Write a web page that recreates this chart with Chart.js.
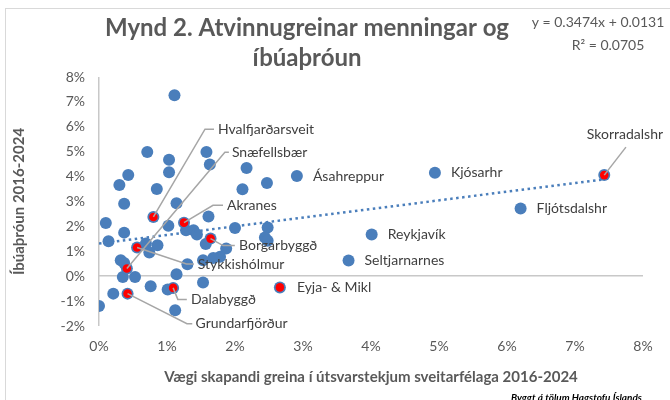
<!DOCTYPE html>
<html><head><meta charset="utf-8">
<script src="https://cdn.jsdelivr.net/npm/chart.js@4"></script>
<style>html,body{margin:0;padding:0;background:#fff}</style>
</head><body>
<canvas id="c" width="670" height="400"></canvas>
<script>
// ---- data ----
const xTickLabels = ['0%','1%','2%','3%','4%','5%','6%','7%','8%'];
const yTickLabels = ['-2%','-1%','0%','1%','2%','3%','4%','5%','6%','7%','8%'];

// unlabeled municipalities (x: weight %, y: population growth %)
const otherX = [1.11,0.71,1.03,1.03,0.43,0.30,0.85,1.58,1.63,2.17,2.47,2.11,0.37,1.14,1.61,1.02,0.10,0.37,1.28,1.39,1.44,2.00,2.48,2.44,2.48,0.14,0.69,0.86,0.74,1.57,1.87,1.78,1.68,1.53,1.30,0.32,0.37,0.35,0.53,1.14,0.21,0.76,1.01,1.12,0.00,1.53];
const otherY = [7.27,4.99,4.68,4.17,4.06,3.66,3.50,4.99,4.49,4.35,3.74,3.49,2.91,2.93,2.40,2.03,2.14,1.75,1.85,1.85,1.67,1.94,1.96,1.55,1.42,1.40,1.31,1.24,0.95,1.29,1.11,0.78,0.73,0.64,0.48,0.64,0.53,-0.03,-0.03,0.08,-0.70,-0.40,-0.53,-1.37,-1.20,-0.25];

// labeled (blue) municipalities
const namedNames = ['Ásahreppur','Kjósarhr','Fljótsdalshr','Reykjavík','Seltjarnarnes'];
const namedX = [2.91,4.94,6.20,4.01,3.67];
const namedY = [4.02,4.15,2.72,1.67,0.63];

// highlighted (red) municipalities
const hiNames = ['Hvalfjarðarsveit','Snæfellsbær','Akranes','Borgarbyggð','Stykkishólmur','Dalabyggð','Grundarfjörður','Eyja- & Mikl','Skorradalshr'];
const hiX = [0.80,0.41,1.25,1.64,0.56,1.09,0.42,2.66,7.43];
const hiY = [2.38,0.31,2.15,1.51,1.15,-0.47,-0.70,-0.45,4.06];

// linear trend shown on chart: y = 0.3474x + 0.0131
const trendSlope = [0.3474];
const trendIntercept = [0.0131];
const trendRangeX = [0, 7.43];

// ---- build ----
const toPts = (xs, ys) => xs.map((x, i) => ({x, y: ys[i]}));
const allBlue = toPts(otherX.concat(namedX, hiX), otherY.concat(namedY, hiY));
const hiPts = toPts(hiX, hiY);
const trendPts = trendRangeX.map(x => ({x, y: (trendSlope[0] * x / 100 + trendIntercept[0]) * 100}));

const FONT = 'Lato, "Noto Sans", sans-serif';
const BLUE = '#4a7ebb';

// label layout, offsets in pixels relative to the point
const hiLayout = {
  'Hvalfjarðarsveit': {elbow:[51.6,-87.7], hend:60.6, text:[64.6,-87.7]},
  'Snæfellsbær':      {elbow:[98,-116.3], hend:102, text:[105,-116.3]},
  'Akranes':          {elbow:[29,-17.3], hend:39, text:[43,-17.3]},
  'Borgarbyggð':      {elbow:[12.6,7], hend:24.3, text:[28.5,7]},
  'Stykkishólmur':    {elbow:[49.4,16.5], hend:56.7, text:[60.7,16.5]},
  'Dalabyggð':        {elbow:[4.7,11.5], hend:13.7, text:[18,11.5]},
  'Grundarfjörður':   {elbow:[59.4,30], hend:64.7, text:[68,30]},
  'Eyja- & Mikl':     {text:[17,0]},
  'Skorradalshr':     {elbow:[21.7,-28], text:[20.7,-41], center:true}
};

const decor = {
  id: 'decor',
  beforeDraw(chart) {
    const c = chart.ctx;
    c.save();
    c.fillStyle = '#fff';
    c.fillRect(0, 0, chart.width, chart.height);
    c.strokeStyle = '#d9d9d9';
    c.lineWidth = 1;
    c.strokeRect(5.5, 8.5, 700, 420);
    c.restore();
  },
  afterDraw(chart) {
    const c = chart.ctx;
    const xs = chart.scales.x, ys = chart.scales.y;
    c.save();
    // title
    c.fillStyle = '#595959';
    c.textAlign = 'center';
    c.textBaseline = 'middle';
    c.font = 'bold 24px ' + FONT;
    c.fillText('Mynd 2. Atvinnugreinar menningar og', 307, 28);
    c.fillText('íbúaþróun', 307, 58);
    // equation
    c.font = '14px ' + FONT;
    c.fillText('y = 0.3474x + 0.0131', 598, 22);
    c.fillText('R² = 0.0705', 608, 45);
    // axis titles
    c.font = 'bold 15px ' + FONT;
    c.fillText('Vægi skapandi greina í útsvarstekjum sveitarfélaga 2016-2024', (xs.left + xs.right) / 2, 377);
    c.save();
    c.translate(19, (ys.top + ys.bottom) / 2);
    c.rotate(-Math.PI / 2);
    c.fillText('Íbúaþróun 2016-2024', 0, 0);
    c.restore();
    // source
    c.fillStyle = '#000';
    c.textAlign = 'left';
    c.font = 'italic bold 10px ' + FONT;
    c.fillText('Byggt á tölum Hagstofu Íslands', 511, 398);

    // point labels
    c.font = '14px ' + FONT;
    c.fillStyle = '#404040';
    c.textBaseline = 'middle';
    namedNames.forEach((n, i) => {
      const px = xs.getPixelForValue(namedX[i]), py = ys.getPixelForValue(namedY[i]);
      c.textAlign = 'left';
      c.fillText(n, px + 16, py);
    });
    hiNames.forEach((n, i) => {
      const px = xs.getPixelForValue(hiX[i]), py = ys.getPixelForValue(hiY[i]);
      const L = hiLayout[n];
      if (L.elbow) {
        c.strokeStyle = '#a6a6a6';
        c.lineWidth = 1.5;
        c.beginPath();
        c.moveTo(px, py);
        c.lineTo(px + L.elbow[0], py + L.elbow[1]);
        if (L.hend !== undefined) c.lineTo(px + L.hend, py + L.elbow[1]);
        c.stroke();
      }
      c.textAlign = L.center ? 'center' : 'left';
      c.fillText(n, px + L.text[0], py + L.text[1]);
    });
    c.restore();
  }
};

const gridColor = ctx => (ctx.tick && ctx.tick.value === 0) ? '#c8c8c8' : 'rgba(0,0,0,0)';

new Chart(document.getElementById('c'), {
  type: 'scatter',
  data: {
    datasets: [
      {label: 'hi', data: hiPts, backgroundColor: '#ff0000', borderWidth: 0, pointRadius: 4.3, order: 0},
      {label: 'trend', type: 'line', data: trendPts, borderColor: BLUE, borderWidth: 2.5, borderDash: [2.5, 3.5], pointRadius: 0, fill: false, order: 1},
      {label: 'all', data: allBlue, backgroundColor: BLUE, borderWidth: 0, pointRadius: 6, order: 2}
    ]
  },
  options: {
    responsive: false,
    animation: false,
    devicePixelRatio: 1,
    layout: {padding: {top: 77, right: 27, bottom: 0, left: 0}},
    plugins: {legend: {display: false}, tooltip: {enabled: false}, title: {display: false}},
    scales: {
      x: {
        type: 'linear', min: 0, max: 8,
        afterFit: s => { s.height = 74; },
        ticks: {stepSize: 1, padding: 12, color: '#595959', font: {family: FONT, size: 14},
          callback: (v, i) => xTickLabels[i]},
        grid: {color: gridColor, lineWidth: 1.5, drawTicks: false},
        border: {display: false}
      },
      y: {
        type: 'linear', min: -2, max: 8,
        afterFit: s => { s.width = 99; },
        ticks: {stepSize: 1, padding: 14, color: '#595959', font: {family: FONT, size: 14},
          callback: (v, i) => yTickLabels[i]},
        grid: {color: gridColor, lineWidth: 1.5, drawTicks: false},
        border: {display: false}
      }
    }
  },
  plugins: [decor]
});
</script>
</body></html>
